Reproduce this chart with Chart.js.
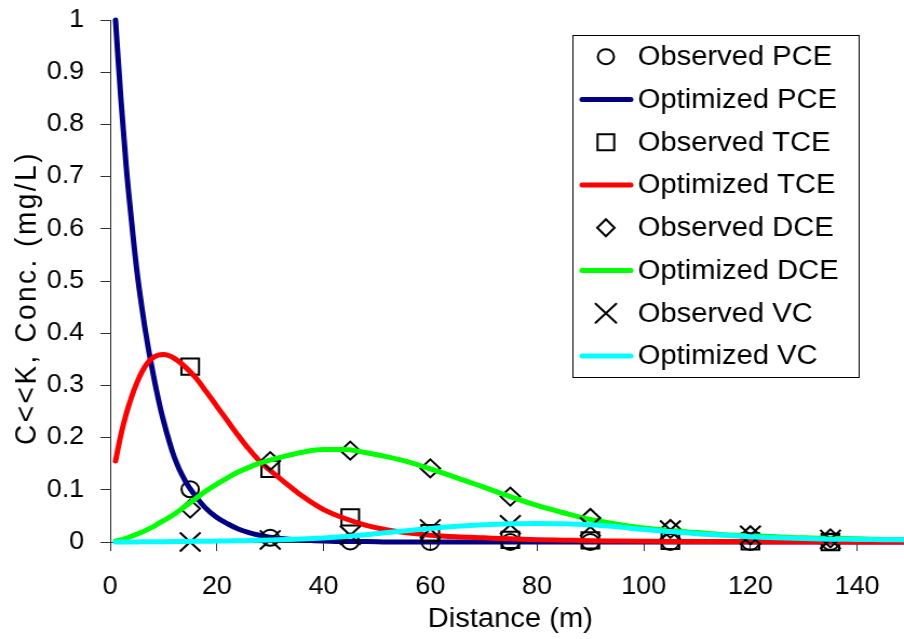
<!DOCTYPE html>
<html>
<head>
<meta charset="utf-8">
<script src="https://cdn.jsdelivr.net/npm/chart.js@4.4.1/dist/chart.umd.min.js"></script>
<style>
  html, body { margin: 0; padding: 0; overflow: hidden; background: #fff; width: 904px; height: 639px; }
  #wrap { position: absolute; left: 0; top: 0; width: 843px; height: 639px; transform: scaleX(1.08); transform-origin: 0 0; }
</style>
</head>
<body>
<div id="wrap"><canvas id="c" width="843" height="639"></canvas></div>
<script>
// ---- data ----
const seriesNames = ['Observed PCE', 'Optimized PCE', 'Observed TCE', 'Optimized TCE',
                     'Observed DCE', 'Optimized DCE', 'Observed VC', 'Optimized VC'];

const distanceObs = [15, 30, 45, 60, 75, 90, 105, 120, 135];
const observedPCE = [0.101, 0.008, 0.001, 0.0, 0.0, 0.0, 0.0, 0.0, 0.0];
const observedTCE = [0.336, 0.140, 0.047, 0.017, 0.004, 0.003, 0.002, 0.001, 0.0];
const observedDCE = [0.064, 0.155, 0.175, 0.141, 0.087, 0.046, 0.025, 0.013, 0.007];
const observedVC  = [0.0, 0.004, 0.013, 0.025, 0.033, 0.029, 0.023, 0.013, 0.005];

const distanceModel = [1, 2, 3, 4, 5, 6, 7, 8, 9, 10,
                       12, 14, 16, 18, 20, 22, 24, 26, 28, 30,
                       33, 36, 40, 44, 48, 52, 56, 60,
                       65, 70, 75, 80, 85, 90, 95, 100,
                       105, 110, 115, 120, 125, 130, 135, 140, 145, 150];
const optimizedPCE = [1.0, 0.85, 0.72, 0.615, 0.52, 0.445, 0.38, 0.325, 0.275, 0.232,
                      0.163, 0.118, 0.088, 0.064, 0.047, 0.035, 0.025, 0.018, 0.013, 0.009,
                      0.006, 0.004, 0.002, 0.001, 0.001, 0, 0, 0,
                      0, 0, 0, 0, 0, 0, 0, 0,
                      0, 0, 0, 0, 0, 0, 0, 0, 0, 0];
const optimizedTCE = [0.155, 0.205, 0.245, 0.278, 0.305, 0.327, 0.343, 0.353, 0.358, 0.359,
                      0.352, 0.336, 0.315, 0.288, 0.260, 0.232, 0.204, 0.178, 0.155, 0.137,
                      0.112, 0.088, 0.062, 0.045, 0.032, 0.023, 0.017, 0.013,
                      0.010, 0.008, 0.006, 0.0045, 0.0035, 0.0025, 0.002, 0.0015,
                      0.001, 0.001, 0.0008, 0.0006, 0.0005, 0.0004, 0.0003, 0.0002, 0.0002, 0.0001];
const optimizedDCE = [0.002, 0.004, 0.007, 0.011, 0.015, 0.019, 0.024, 0.029, 0.035, 0.041,
                      0.053, 0.068, 0.083, 0.098, 0.111, 0.123, 0.134, 0.143, 0.151, 0.157,
                      0.165, 0.172, 0.177, 0.177, 0.171, 0.163, 0.153, 0.140,
                      0.123, 0.105, 0.087, 0.070, 0.056, 0.043, 0.034, 0.027,
                      0.022, 0.018, 0.014, 0.012, 0.010, 0.008, 0.007, 0.006, 0.005, 0.005];
const optimizedVC  = [0, 0, 0, 0, 0.0002, 0.0003, 0.0004, 0.0005, 0.0006, 0.0007,
                      0.0009, 0.0011, 0.0013, 0.0015, 0.0018, 0.002, 0.0024, 0.0028, 0.0032, 0.0037,
                      0.0046, 0.0058, 0.0078, 0.0105, 0.014, 0.018, 0.022, 0.026,
                      0.030, 0.033, 0.035, 0.0355, 0.035, 0.033, 0.029, 0.024,
                      0.020, 0.016, 0.013, 0.010, 0.008, 0.0065, 0.0055, 0.005, 0.0045, 0.004];

const xAxisTitle = 'Distance (m)';
const yAxisTitle = 'C<<K, Conc. (mg/L)';

// ---- build datasets ----
const FONT = '"Liberation Sans", Arial, sans-serif';
const pts = (xs, ys) => xs.map((x, i) => ({ x: x, y: ys[i] }));

function markerSet(label, ys, style, radius) {
  return {
    label: label, data: pts(distanceObs, ys), showLine: false,
    pointStyle: style, pointRadius: radius, pointHoverRadius: radius,
    pointBorderColor: '#000', pointBackgroundColor: 'rgba(0,0,0,0)', pointBorderWidth: 2,
    borderColor: '#000', backgroundColor: 'rgba(0,0,0,0)', clip: false
  };
}
function lineSet(label, ys, color) {
  return {
    label: label, data: pts(distanceModel, ys), showLine: true,
    borderColor: color, backgroundColor: color, borderWidth: 5, pointRadius: 0,
    cubicInterpolationMode: 'monotone', fill: false, clip: false,
    borderCapStyle: 'round', borderJoinStyle: 'round'
  };
}

const datasets = [
  markerSet(seriesNames[0], observedPCE, 'circle', 8),
  lineSet(seriesNames[1], optimizedPCE, '#000080'),
  markerSet(seriesNames[2], observedTCE, 'rect', 11.5),
  lineSet(seriesNames[3], optimizedTCE, '#FF0000'),
  markerSet(seriesNames[4], observedDCE, 'rectRot', 9),
  lineSet(seriesNames[5], optimizedDCE, '#00FF00'),
  markerSet(seriesNames[6], observedVC, 'crossRot', 13.5),
  lineSet(seriesNames[7], optimizedVC, '#00FFFF')
];
// later series drawn on top (like the source)
datasets.forEach((d, i) => { d.order = datasets.length - i; });

// ---- legend box drawn inside the plot ----
function drawMarker(ctx, style, x, y) {
  ctx.save();
  ctx.strokeStyle = '#000';
  ctx.lineWidth = 2;
  ctx.beginPath();
  if (style === 'circle') {
    ctx.arc(x, y, 7.5, 0, Math.PI * 2);
  } else if (style === 'rect') {
    ctx.rect(x - 7.7, y - 8, 15.4, 16);
  } else if (style === 'rectRot') {
    ctx.moveTo(x, y - 8.5); ctx.lineTo(x + 8, y); ctx.lineTo(x, y + 8.5); ctx.lineTo(x - 8, y); ctx.closePath();
  } else {
    const d = 9.5;
    ctx.moveTo(x - d, y - d); ctx.lineTo(x + d, y + d);
    ctx.moveTo(x + d, y - d); ctx.lineTo(x - d, y + d);
  }
  ctx.stroke();
  ctx.restore();
}

const boxLegend = {
  id: 'boxLegend',
  afterDraw(chart) {
    const ctx = chart.ctx;
    // rotated y-axis title
    ctx.save();
    ctx.translate(25, 298);
    ctx.rotate(-Math.PI / 2);
    ctx.fillStyle = '#000';
    ctx.font = '28px ' + FONT;
    if ('letterSpacing' in ctx) ctx.letterSpacing = '2.5px';
    ctx.textAlign = 'center';
    ctx.textBaseline = 'middle';
    ctx.fillText(yAxisTitle, 0, 0);
    ctx.restore();

    const L = 530.5, T = 35.5, R = 795.5, B = 377.5;
    ctx.save();
    ctx.fillStyle = '#fff';
    ctx.fillRect(L, T, R - L, B - T);
    ctx.strokeStyle = '#000';
    ctx.lineWidth = 1;
    ctx.strokeRect(L, T, R - L, B - T);
    const rowH = 42.75, y0 = 56.7;
    chart.data.datasets.forEach((ds, i) => {
      const y = y0 + i * rowH;
      if (ds.showLine === false) {
        drawMarker(ctx, ds.pointStyle, 561, y);
      } else {
        ctx.beginPath();
        ctx.strokeStyle = ds.borderColor;
        ctx.lineWidth = 5;
        ctx.lineCap = 'round';
        ctx.moveTo(539, y); ctx.lineTo(584, y);
        ctx.stroke();
      }
      ctx.fillStyle = '#000';
      ctx.font = '27px ' + FONT;
      ctx.textAlign = 'left';
      ctx.textBaseline = 'middle';
      ctx.fillText(ds.label, 590.5, y + 1);
    });
    ctx.restore();
  }
};

const AXIS_COLOR = '#333';

new Chart(document.getElementById('c'), {
  type: 'line',
  data: { datasets: datasets },
  plugins: [boxLegend],
  options: {
    responsive: false,
    animation: false,
    devicePixelRatio: 1,
    layout: { autoPadding: false, padding: { top: 20, right: 0, bottom: 0, left: 0 } },
    plugins: { legend: { display: false }, tooltip: { enabled: false } },
    scales: {
      x: {
        type: 'linear', min: 0, max: 150,
        ticks: { stepSize: 20, includeBounds: false, color: '#000', padding: 21,
                 font: { family: FONT, size: 25 }, maxRotation: 0 },
        afterBuildTicks: (s) => { s.ticks = s.ticks.filter(t => t.value % 20 === 0); },
        grid: { drawOnChartArea: false, drawTicks: true, tickLength: 9, color: AXIS_COLOR, lineWidth: 1 },
        border: { display: true, color: AXIS_COLOR, width: 1 },
        title: { display: true, text: xAxisTitle, color: '#000',
                 font: { family: FONT, size: 27 }, padding: { top: 0, bottom: 3 } },
        afterFit: (s) => { s.height = 97; s.paddingLeft = 0; s.paddingRight = 0; }
      },
      y: {
        type: 'linear', min: 0, max: 1,
        ticks: { stepSize: 0.1, color: '#000', padding: 15, font: { family: FONT, size: 25 },
                 callback: (v) => String(Math.round(v * 10) / 10) },
        grid: { drawOnChartArea: false, drawTicks: true, tickLength: 9, color: AXIS_COLOR, lineWidth: 1 },
        border: { display: true, color: AXIS_COLOR, width: 1 },
        title: { display: false, text: yAxisTitle },
        afterFit: (s) => { s.width = 102; s.paddingTop = 0; s.paddingBottom = 0; }
      }
    }
  }
});
</script>
</body>
</html>
